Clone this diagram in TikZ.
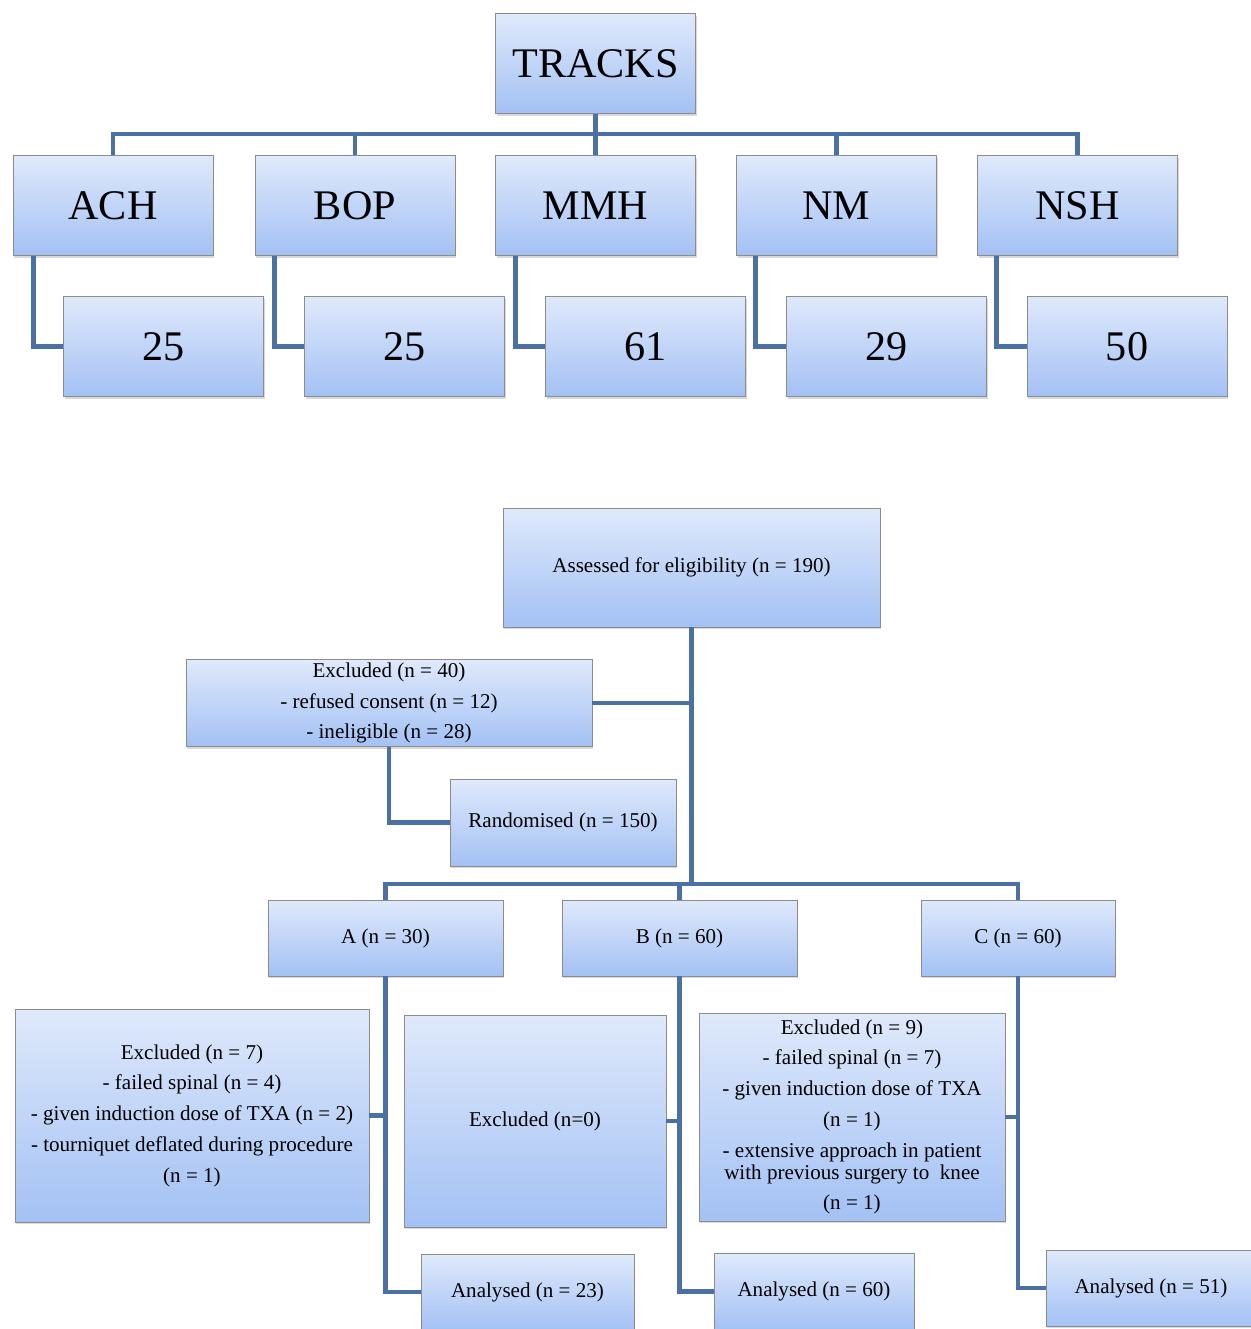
\documentclass[tikz,border=0pt]{standalone}
\usepackage{fontspec}
\setmainfont{Liberation Serif}
\usepackage{tikz}
\usetikzlibrary{shadows}
\definecolor{linkblue}{HTML}{4A70A6}
\definecolor{boxtop}{HTML}{DFE9FB}
\definecolor{boxbot}{HTML}{A3C1F4}
\definecolor{boxrim}{HTML}{8C8C8C}

\begin{document}
\begin{tikzpicture}[x=0.02cm, y=-0.02cm,
    box/.style={draw=boxrim, line width=0.5pt, top color=boxtop, bottom color=boxbot,
        drop shadow={shadow xshift=0.6pt, shadow yshift=-1.4pt, opacity=0.3}, inner sep=2pt, align=center},
    big/.style={box, minimum width=4cm, minimum height=2cm, font=\fontsize{24}{28}\selectfont},
    small/.style={box, font=\fontsize{12}{17.5}\selectfont},
    link/.style={draw=linkblue, line width=2.8pt}]
    \useasboundingbox (0,0) rectangle (1251,1329);

    % Tracks
    \node[big] (tracks) at (595.5,63.5) {TRACKS};
    \node[big] (ach) at (113,205.5) {ACH};
    \node[big] (bop) at (355,205.5) {BOP};
    \node[big] (mmh) at (595.5,205.5) {MMH};
    \node[big] (nm)  at (836.5,205.5) {NM};
    \node[big] (nsh) at (1077.5,205.5) {NSH};
    \node[big] (nach) at (163.5,346.5) {25};
    \node[big] (nbop) at (404.5,346.5) {25};
    \node[big] (nmmh) at (645.5,346.5) {61};
    \node[big] (nnm)  at (886.5,346.5) {29};
    \node[big] (nnsh) at (1127,346.5) {50};

    \coordinate (bus) at (0,134);
    \draw[link] (tracks.south) -- (tracks.south |- bus);
    \draw[link] (ach.north) -- (ach.north |- bus) -- (nsh.north |- bus) -- (nsh.north);
    \draw[link] (bop.north) -- (bop.north |- bus);
    \draw[link] (mmh.north) -- (mmh.north |- bus);
    \draw[link] (nm.north) -- (nm.north |- bus);
    \draw[link] (ach.south west) ++(21,0) |- (nach.west);
    \draw[link] (bop.south west) ++(20,0) |- (nbop.west);
    \draw[link] (mmh.south west) ++(20,0) |- (nmmh.west);
    \draw[link] (nm.south west) ++(19,0) |- (nnm.west);
    \draw[link] (nsh.south west) ++(19,0) |- (nnsh.west);

    % Flow of patients
    \node[small, minimum width=7.54cm, minimum height=2.38cm] (assess) at (691.5,567.5) {Assessed for eligibility (n = 190)};
    \node[small, minimum width=8.12cm, minimum height=1.72cm] (excl) at (389,703) {Excluded (n = 40)\\- refused consent (n = 12)\\- ineligible (n = 28)};
    \node[small, minimum width=4.52cm, minimum height=1.74cm] (rand) at (563,822.5) {Randomised (n = 150)};
    \node[small, minimum width=4.7cm, minimum height=1.52cm] (a) at (385.5,938) {A (n = 30)};
    \node[small, minimum width=4.7cm, minimum height=1.52cm] (b) at (679.5,938) {B (n = 60)};
    \node[small, minimum width=3.88cm, minimum height=1.52cm] (c) at (1018,938) {C (n = 60)};
    \node[small, minimum width=7.08cm, minimum height=4.26cm] (exa) at (192,1115.5) {Excluded (n = 7)\\- failed spinal (n = 4)\\- given induction dose of TXA (n = 2)\\- tourniquet deflated during procedure\\(n = 1)};
    \node[small, minimum width=5.24cm, minimum height=4.24cm] (exb) at (535,1121) {Excluded (n=0)};
    \node[small, minimum width=6.12cm, minimum height=4.16cm] (exc) at (852,1117) {Excluded (n = 9)\\- failed spinal (n = 7)\\- given induction dose of TXA\\(n = 1)\\- extensive approach in patient\\[-5pt]with previous surgery to \ knee\\(n = 1)};
    \node[small, minimum width=4.26cm, minimum height=1.52cm] (ana) at (527.5,1292) {Analysed (n = 23)};
    \node[small, minimum width=4cm, minimum height=1.54cm] (anb) at (814,1291.5) {Analysed (n = 60)};
    \node[small, minimum width=4.2cm, minimum height=1.52cm] (anc) at (1151,1288) {Analysed (n = 51)};

    \coordinate (split) at (0,884);
    \draw[link] (assess.south) -- (assess.south |- split);
    \draw[link] (excl.east) -- (excl.east -| assess.south);
    \draw[link] (excl.south) |- (rand.west);
    \draw[link] (a.north) -- (a.north |- split) -- (c.north |- split) -- (c.north);
    \draw[link] (b.north) -- (b.north |- split);
    \draw[link] (a.south) |- (ana.west);
    \draw[link] (b.south) |- (anb.west);
    \draw[link] (c.south) |- (anc.west);
    \draw[link] (exa.east) -- (exa.east -| a.south);
    \draw[link] (exb.east) -- (exb.east -| b.south);
    \draw[link] (exc.east) -- (exc.east -| c.south);
\end{tikzpicture}
\end{document}
